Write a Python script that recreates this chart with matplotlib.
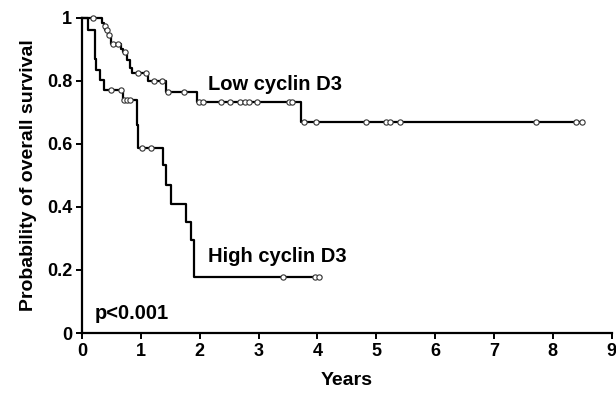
#!/usr/bin/env python3

import numpy as np
import matplotlib
matplotlib.use("Agg")
import matplotlib.pyplot as plt


# Kaplan-Meier steps (time in years, survival after the step)
low_times = [0, 0.34, 0.37, 0.40, 0.44, 0.49, 0.50, 0.66, 0.70, 0.77, 0.81, 0.85,
             1.13, 1.42, 1.96, 3.73, 8.52]
low_surv = [1.0, 0.985, 0.975, 0.96, 0.946, 0.93, 0.917, 0.90, 0.89, 0.867, 0.84, 0.824,
            0.798, 0.766, 0.734, 0.671, 0.671]
low_censored = [0.19, 0.385, 0.42, 0.46, 0.52, 0.61, 0.74, 0.95, 1.09, 1.22, 1.36,
                1.46, 1.73, 1.99, 2.05, 2.37, 2.51, 2.68, 2.77, 2.84, 2.97, 3.52, 3.57,
                3.77, 3.97, 4.82, 5.17, 5.23, 5.40, 7.72, 8.40, 8.50]

high_times = [0, 0.10, 0.22, 0.24, 0.30, 0.37, 0.69, 0.94, 0.96, 1.38, 1.43, 1.52,
              1.76, 1.86, 1.91, 4.06]
high_surv = [1.0, 0.962, 0.87, 0.835, 0.803, 0.771, 0.74, 0.66, 0.586, 0.533, 0.47, 0.41,
             0.353, 0.295, 0.179, 0.179]
high_censored = [0.50, 0.66, 0.72, 0.77, 0.81, 1.02, 1.17, 3.41, 3.96, 4.03]

x_ticks = list(range(0, 10))
y_ticks = [0, 0.2, 0.4, 0.6, 0.8, 1]
y_tick_labels = ["0", "0.2", "0.4", "0.6", "0.8", "1"]

plt.rcParams["font.family"] = ["Liberation Sans", "DejaVu Sans"]
plt.rcParams["font.weight"] = "bold"


def surv_at(times, surv, t):
    idx = np.searchsorted(times, t, side="right") - 1
    return np.asarray(surv)[idx]


def draw_curve(ax, times, surv, censored):
    ax.plot(times, surv, drawstyle="steps-post", color="black", linewidth=1.6,
            clip_on=False, zorder=2)
    ys = [surv_at(times, surv, t) for t in censored]
    ax.plot(censored, ys, linestyle="none", marker="o", markersize=3.8,
            markerfacecolor="white", markeredgecolor="#333333", markeredgewidth=0.8,
            clip_on=False, zorder=3)


fig = plt.figure(figsize=(6.16, 3.96), dpi=100)
ax = fig.add_axes([0.133, 0.159, 0.860, 0.796])

draw_curve(ax, low_times, low_surv, low_censored)
draw_curve(ax, high_times, high_surv, high_censored)

ax.text(2.14, 0.79, "Low cyclin D3", fontsize=14.5, fontweight="bold", va="center")
ax.text(2.14, 0.242, "High cyclin D3", fontsize=14.5, fontweight="bold", va="center")
ax.text(0.22, 0.063, "p<0.001", fontsize=14.5, fontweight="bold", va="center")

ax.set_xlim(0, 9)
ax.set_ylim(0, 1)
ax.set_xticks(x_ticks)
ax.set_yticks(y_ticks)
ax.set_yticklabels(y_tick_labels)
for side in ("top", "right"):
    ax.spines[side].set_visible(False)
for side in ("left", "bottom"):
    ax.spines[side].set_linewidth(1.6)
ax.tick_params(direction="out", length=4, width=1.4, labelsize=13, pad=3)
for lab in ax.get_xticklabels() + ax.get_yticklabels():
    lab.set_fontweight("bold")

ax.set_xlabel("Years", fontsize=14, fontweight="bold", labelpad=9)
ax.set_ylabel("Probability of overall survival", fontsize=14, fontweight="bold", labelpad=7)

fig.savefig("out.png", dpi=100)
